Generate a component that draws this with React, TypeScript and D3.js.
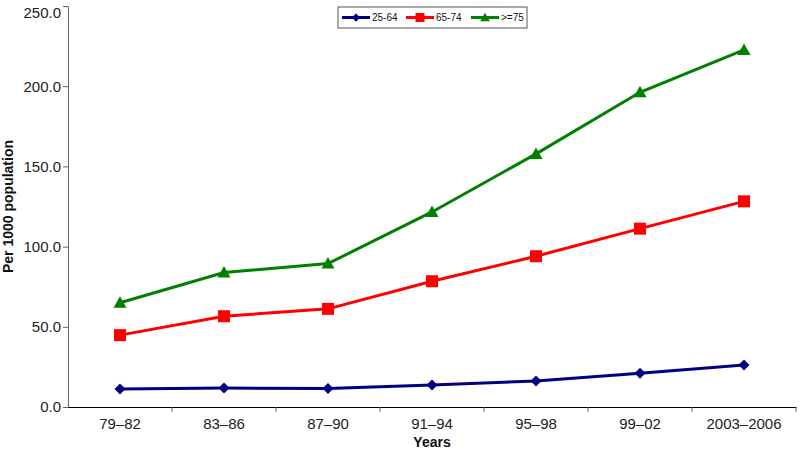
import React, { useRef, useEffect } from "react"
import * as d3 from "d3"

// Data
const periods = ["79–82", "83–86", "87–90", "91–94", "95–98", "99–02", "2003–2006"]
const age25to64 = [11.2, 11.8, 11.6, 13.7, 16.2, 21.0, 26.2]
const age65to74 = [44.8, 56.6, 61.2, 78.4, 94.0, 111.2, 128.2]
const age75plus = [65.0, 83.8, 89.4, 121.6, 157.8, 196.2, 222.6]
const yTicks = [0, 50, 100, 150, 200, 250]

interface Series {
  name: string
  values: number[]
  color: string
  marker: "diamond" | "square" | "triangle"
}

const series: Series[] = [
  { name: "25-64", values: age25to64, color: "#000080", marker: "diamond" },
  { name: "65-74", values: age65to74, color: "#ff0000", marker: "square" },
  { name: ">=75", values: age75plus, color: "#008000", marker: "triangle" },
]

const width = 800
const height = 450

const App: React.FC = () => {
  const svgRef = useRef<SVGSVGElement | null>(null)

  useEffect(() => {
    const svg = d3.select(svgRef.current)
    svg.selectAll("*").remove()

    const margin = { top: 6, right: 4, bottom: 43, left: 68 }
    const font = "Liberation Sans, Arial, sans-serif"

    const x = d3.scaleBand<string>()
      .domain(periods)
      .range([margin.left, width - margin.right])

    const y = d3.scaleLinear()
      .domain([0, 250])
      .range([height - margin.bottom, margin.top])

    // Y axis
    const yAxis = svg.append("g")
      .attr("transform", `translate(${margin.left},0)`)
      .call(d3.axisLeft(y).tickValues(yTicks).tickSize(5).tickFormat(d3.format(".1f")))
    yAxis.select(".domain").attr("stroke", "#666")
    yAxis.selectAll(".tick line").attr("stroke", "#666")
    yAxis.selectAll<SVGTextElement, number>(".tick text")
      .attr("font-family", font)
      .attr("font-size", 15)
      .attr("fill", "#222")
      .attr("x", -7)
      // keep the top label inside the page
      .attr("dy", d => (d === 250 ? "0.75em" : "0.32em"))

    // X axis, ticks between categories
    const xAxis = svg.append("g")
      .attr("transform", `translate(0,${y(0)})`)
      .call(d3.axisBottom(x).tickSize(0).tickPadding(11))
    xAxis.select(".domain").attr("stroke", "#000").attr("stroke-width", 1.2)
    xAxis.selectAll(".tick text")
      .attr("font-family", font)
      .attr("font-size", 15)
      .attr("fill", "#222")
    xAxis.selectAll("line.sep")
      .data(periods.slice(1).concat(["end"]))
      .enter()
      .append("line")
      .attr("class", "sep")
      .attr("x1", (d, i) => (x(periods[0]) as number) + x.step() * (i + 1))
      .attr("x2", (d, i) => (x(periods[0]) as number) + x.step() * (i + 1))
      .attr("y1", 0)
      .attr("y2", 5)
      .attr("stroke", "#666")

    // Axis titles
    svg.append("text")
      .attr("transform", `translate(13,${(y(0) + y(250)) / 2}) rotate(-90)`)
      .attr("text-anchor", "middle")
      .attr("font-family", font)
      .attr("font-size", 14)
      .attr("font-weight", "bold")
      .attr("fill", "#111")
      .text("Per 1000 population")

    svg.append("text")
      .attr("x", x("91–94")! + x.bandwidth() / 2)
      .attr("y", 447)
      .attr("text-anchor", "middle")
      .attr("font-family", font)
      .attr("font-size", 14)
      .attr("font-weight", "bold")
      .attr("fill", "#111")
      .text("Years")

    const cx = (i: number) => (x(periods[i]) as number) + x.bandwidth() / 2

    const markerPath = (kind: Series["marker"]) => {
      if (kind === "diamond") return "M0,-5.5L5.5,0L0,5.5L-5.5,0Z"
      if (kind === "square") return "M-6,-6H6V6H-6Z"
      return "M0,-6.5L6.5,5L-6.5,5Z"
    }

    const line = d3.line<number>()
      .x((_d, i) => cx(i))
      .y(d => y(d))

    series.forEach(s => {
      svg.append("path")
        .datum(s.values)
        .attr("d", line)
        .attr("fill", "none")
        .attr("stroke", s.color)
        .attr("stroke-width", 3)

      svg.append("g")
        .selectAll("path")
        .data(s.values)
        .enter()
        .append("path")
        .attr("transform", (d, i) => `translate(${cx(i)},${y(d)})`)
        .attr("d", markerPath(s.marker))
        .attr("fill", s.color)
    })

    // Legend
    const legend = svg.append("g").attr("transform", "translate(338,7)")
    legend.append("rect")
      .attr("width", 189)
      .attr("height", 21)
      .attr("fill", "#fff")
      .attr("stroke", "#555")
      .attr("stroke-width", 1)

    const itemX = [4, 68, 133]
    series.forEach((s, i) => {
      const g = legend.append("g").attr("transform", `translate(${itemX[i]},10.5)`)
      g.append("line")
        .attr("x1", 0).attr("x2", 28)
        .attr("stroke", s.color)
        .attr("stroke-width", 3)
      g.append("path")
        .attr("transform", "translate(14,0) scale(0.75)")
        .attr("d", markerPath(s.marker))
        .attr("fill", s.color)
      g.append("text")
        .attr("x", 30)
        .attr("dy", "0.35em")
        .attr("font-family", font)
        .attr("font-size", 10)
        .attr("fill", "#111")
        .text(s.name)
    })
  }, [])

  return (
    <svg ref={svgRef} width={width} height={height}
      style={{ position: "absolute", left: 0, top: 0, background: "#fff" }}></svg>
  )
}

export default App
